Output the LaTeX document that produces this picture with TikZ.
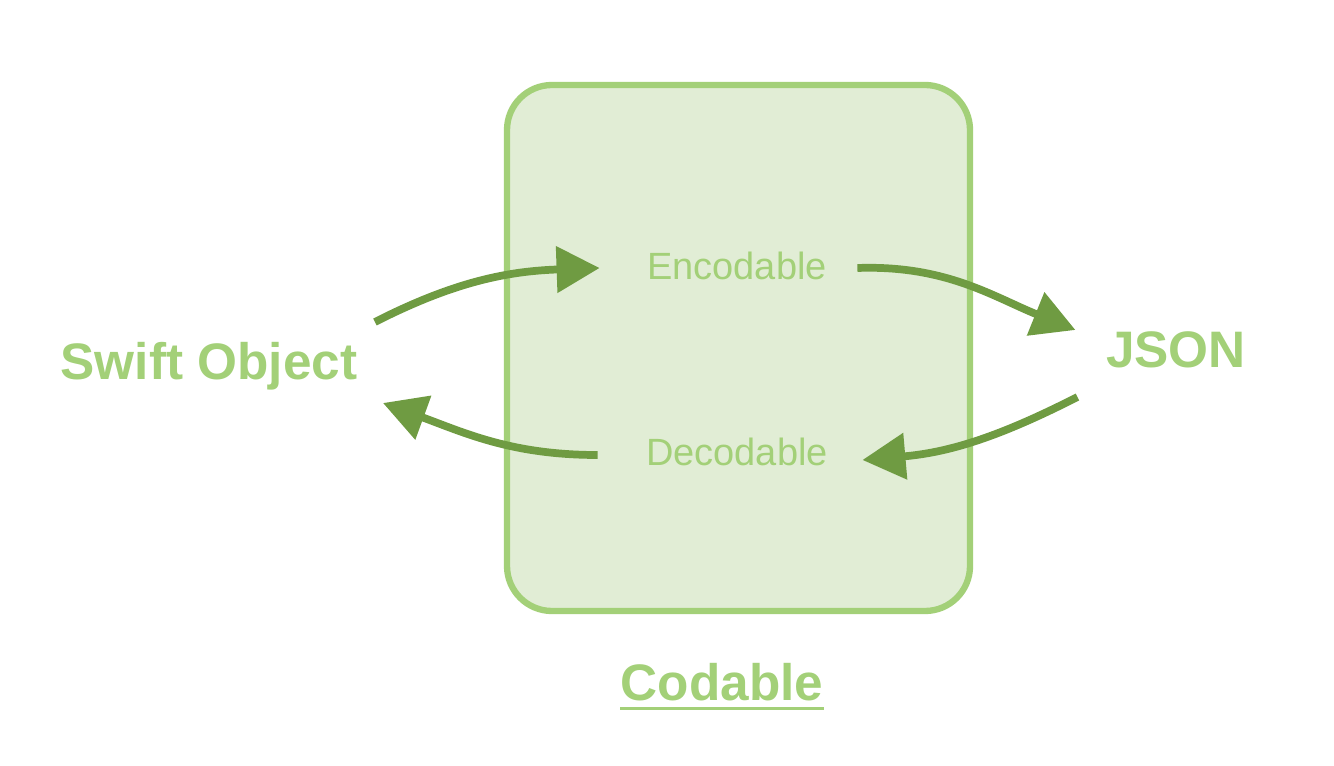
\documentclass[tikz,border=0pt]{standalone}
\usepackage{fontspec}
\setmainfont{Liberation Sans}
\usepackage{tikz}
\usetikzlibrary{arrows.meta,positioning}
\definecolor{codlight}{RGB}{163,208,120}
\definecolor{codfill}{RGB}{225,237,213}
\definecolor{coddark}{RGB}{111,155,66}

\begin{document}
\begin{tikzpicture}[
  every node/.style={inner sep=0pt, text height=1.38ex, text depth=0pt},
  bigtext/.style={font=\fontsize{14.6pt}{16pt}\selectfont\bfseries, text=codlight},
  smalltext/.style={font=\fontsize{10.8pt}{13pt}\selectfont, text=codlight},
  flow/.style={draw=coddark, line width=2.2pt, -{Triangle[length=4.3mm, width=4.5mm]}}
]
\useasboundingbox (0,0) rectangle (13.34,7.65);
% codable box
\draw[codlight, fill=codfill, line width=1.8pt, rounded corners=0.45cm]
  (5.07,1.54) rectangle (9.70,6.80);

\node[bigtext] (swift) at (2.09,3.98) {Swift Object};
\node[bigtext] (json) at (11.76,4.10) {JSON};
\node[smalltext] (enc) at (7.37,4.98) {Encodable};
\node[smalltext] (dec) at (7.37,3.12) {Decodable};
\node[bigtext] (cod) at (7.22,0.77) {Codable};
\draw[codlight, line width=1pt] ([yshift=-0.07cm]cod.south west) -- ([yshift=-0.07cm]cod.south east);

% encode / decode arrows
\draw[flow] ([xshift=0.17cm, yshift=0.45cm]swift.east) to[out=27, in=182] ([xshift=-0.47cm, yshift=-0.01cm]enc.west);
\draw[flow] ([xshift=0.30cm, yshift=-0.01cm]enc.east) to[out=2, in=158] ([xshift=-0.30cm, yshift=0.25cm]json.west);
\draw[flow] ([xshift=-0.28cm, yshift=-0.42cm]json.west) to[out=207, in=5] ([xshift=0.34cm, yshift=-0.07cm]dec.east);
\draw[flow] ([xshift=-0.48cm, yshift=-0.02cm]dec.west) to[out=180, in=-20] ([xshift=0.25cm, yshift=-0.36cm]swift.east);
\end{tikzpicture}
\end{document}
